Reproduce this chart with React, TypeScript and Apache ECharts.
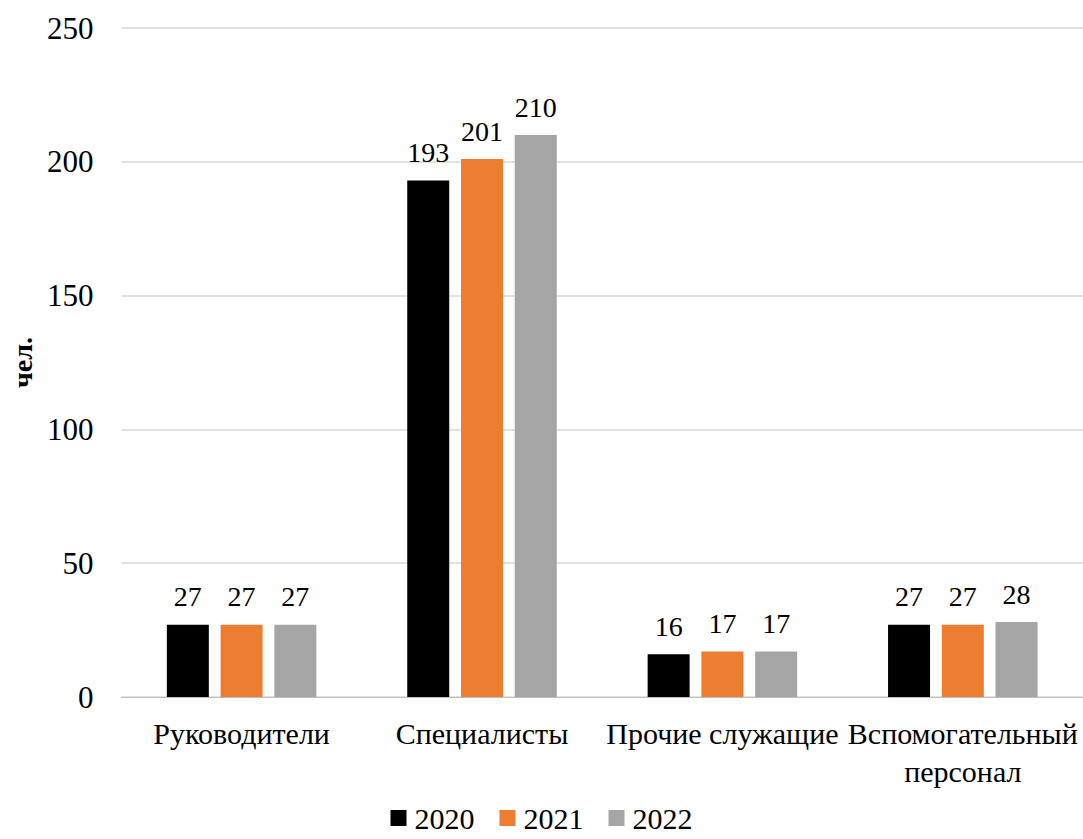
import React, { useEffect, useRef } from "react";
import * as echarts from "echarts";

const categories = ["Руководители", "Специалисты", "Прочие служащие", "Вспомогательный персонал"];
const seriesNames = ["2020", "2021", "2022"];
const values2020 = [27, 193, 16, 27];
const values2021 = [27, 201, 17, 27];
const values2022 = [27, 210, 17, 28];
const colors = ["#000000", "#ED7D31", "#A5A5A5"];
const yTicks = { min: 0, max: 250, interval: 50 };
const yName = "чел.";

const FONT = "Liberation Serif, Times New Roman, serif";

export default function App() {
  const ref = useRef<HTMLDivElement>(null);
  useEffect(() => {
    if (!ref.current) return;
    const chart = echarts.init(ref.current, undefined, { renderer: "svg" });
    const data = [values2020, values2021, values2022];
    chart.setOption({
      animation: false,
      textStyle: { fontFamily: FONT, color: "#000" },
      grid: { left: 118, right: -10, top: 28, bottom: 142 },
      legend: {
        bottom: 1,
        left: "center",
        itemWidth: 16,
        itemHeight: 16,
        itemGap: 25,
        icon: "rect",
        textStyle: { fontFamily: FONT, fontSize: 30, color: "#000", padding: [0, 0, 0, 3] },
        data: seriesNames,
      },
      xAxis: {
        type: "category",
        data: categories,
        axisLine: { lineStyle: { color: "#BFBFBF", width: 1 } },
        axisTick: { show: false },
        axisLabel: {
          fontFamily: FONT,
          fontSize: 30,
          color: "#000",
          margin: 17,
          lineHeight: 38,
          interval: 0,
          formatter: (v: string) => (v.length > 18 ? v.replace(" ", "\n") : v),
        },
      },
      yAxis: {
        type: "value",
        min: yTicks.min,
        max: yTicks.max,
        interval: yTicks.interval,
        name: yName,
        nameLocation: "middle",
        nameRotate: 90,
        nameGap: 84,
        nameTextStyle: { fontFamily: FONT, fontSize: 28, fontWeight: "bold", color: "#000" },
        axisLine: { show: false },
        axisTick: { show: false },
        axisLabel: { fontFamily: FONT, fontSize: 31, color: "#000", margin: 28 },
        splitLine: { lineStyle: { color: "#D9D9D9", width: 1.5 } },
      },
      series: seriesNames.map((name, i) => ({
        name,
        type: "bar",
        data: data[i],
        barWidth: 42,
        barGap: "28%",
        itemStyle: { color: colors[i] },
        label: {
          show: true,
          position: "top",
          distance: 14,
          fontFamily: FONT,
          fontSize: 28,
          color: "#000",
        },
      })),
    });
    return () => chart.dispose();
  }, []);
  return (
    <div
      ref={ref}
      style={{ position: "fixed", left: 0, top: 0, width: 1083, height: 839, background: "#fff" }}
    />
  );
}
